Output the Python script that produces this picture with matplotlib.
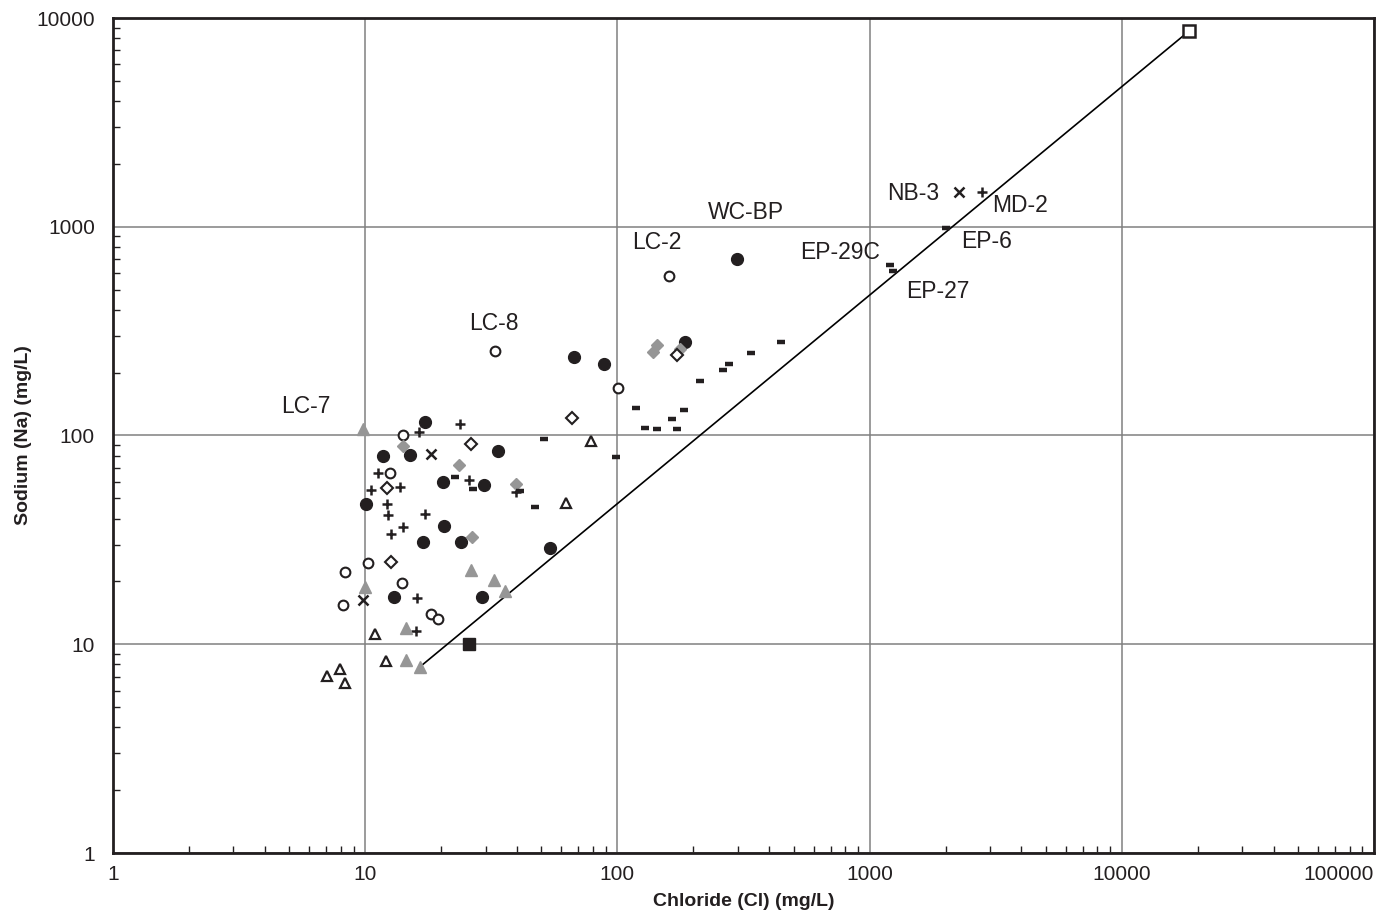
#!/usr/bin/env python3
"""Sodium vs chloride scatter with seawater mixing line."""

import matplotlib

matplotlib.use("Agg")

import matplotlib.pyplot as plt

plt.rcParams["font.family"] = ["Liberation Sans", "DejaVu Sans"]

INK = "#231f20"
GRAY = "#969696"

# (chloride, sodium) in mg/L, grouped by marker
open_circle_cl = [14.1, 12.5, 10.3, 8.3, 14.0, 8.2, 18.3, 19.5, 32.7, 101, 160]
open_circle_na = [101, 66, 24.4, 22.3, 19.6, 15.4, 13.9, 13.2, 255, 168, 581]

filled_circle_cl = [17.2, 33.5, 11.8, 15.0, 20.3, 29.6, 10.1, 20.5, 17.0, 23.9,
                    13.0, 29.1, 54, 67.4, 88.7, 185, 297]
filled_circle_na = [116, 84.6, 79.8, 80.4, 60, 57.7, 46.8, 37, 31.0, 31.0,
                    16.9, 16.9, 29, 237, 220, 279, 700]

plus_cl = [23.8, 16.4, 11.2, 25.8, 39.8, 10.5, 13.7, 12.2, 12.3, 17.2, 14.1,
           12.6, 16.1, 15.9, 2794]
plus_na = [113, 103.5, 65.9, 61.2, 53.8, 54.8, 56.9, 46.8, 41.6, 42, 36.6,
           33.7, 16.6, 11.6, 1462]

cross_cl = [18.3, 9.77, 2265]
cross_na = [81.2, 16.3, 1472]

open_diamond_cl = [26.3, 12.2, 12.6, 66, 172]
open_diamond_na = [90.8, 55.9, 24.7, 121, 242]

gray_diamond_cl = [14.1, 23.6, 39.8, 26.6, 143, 139, 177]
gray_diamond_na = [89, 72, 58.6, 32.5, 272, 250, 259]

gray_triangle_cl = [9.8, 26.3, 32.4, 36, 10, 14.5, 14.5, 16.5]
gray_triangle_na = [108, 22.7, 20.3, 17.9, 18.9, 12.0, 8.4, 7.8]

open_triangle_cl = [10.9, 12.1, 7.07, 7.94, 8.3, 78.9, 62.5]
open_triangle_na = [11.2, 8.3, 7.07, 7.59, 6.5, 94, 47.6]

dash_cl = [22.8, 26.7, 41, 47.1, 51.3, 98.6, 118, 129, 144, 164, 172, 184,
           213, 263, 277, 338, 447, 1203, 1233, 2000]
dash_na = [63, 55.3, 54.5, 45.3, 96, 79, 135, 109, 107, 120, 107.5, 133,
           182, 205, 221, 249, 281, 656, 616, 984]

filled_square_cl = [25.8]
filled_square_na = [10]

seawater_cl = [18500]
seawater_na = [8670]

# mixing line: fresh end member to seawater
mix_cl = [16.5, 18500]
mix_na = [7.8, 8670]

site_labels = ["LC-7", "LC-8", "LC-2", "WC-BP", "EP-29C", "NB-3", "MD-2", "EP-6", "EP-27"]
label_cl = [5.82, 32.5, 143, 322, 766, 1484, 3961, 2917, 1872]
label_na = [138, 344, 836, 1170, 753, 1444, 1271, 850, 487]

x_ticks = [1, 10, 100, 1000, 10000, 100000]
y_ticks = [1, 10, 100, 1000, 10000]


def main():
    fig = plt.figure(figsize=(13.8, 9.13), dpi=100)
    ax = fig.add_axes([113 / 1380, 1 - 853 / 913, 1261 / 1380, 835 / 913])
    ax.set_xscale("log")
    ax.set_yscale("log")
    ax.set_xlim(1, 100000)
    ax.set_ylim(1, 10000)

    ax.plot(mix_cl, mix_na, color="black", lw=1.2, zorder=2)

    ax.plot(open_circle_cl, open_circle_na, "o", ms=7, mfc="white", mec=INK, mew=1.5, ls="none", zorder=3)
    ax.plot(filled_circle_cl, filled_circle_na, "o", ms=8.5, mfc=INK, mec=INK, ls="none", zorder=3)
    ax.plot(plus_cl, plus_na, "+", ms=7.5, mec=INK, mew=1.8, ls="none", zorder=3)
    ax.plot(cross_cl, cross_na, "x", ms=6.5, mec=INK, mew=1.8, ls="none", zorder=3)
    ax.plot(gray_diamond_cl, gray_diamond_na, "D", ms=6.5, mfc=GRAY, mec=GRAY, ls="none", zorder=3)
    ax.plot(open_diamond_cl, open_diamond_na, "D", ms=6, mfc="white", mec=INK, mew=1.5, ls="none", zorder=3)
    ax.plot(gray_triangle_cl, gray_triangle_na, "^", ms=8.5, mfc=GRAY, mec=GRAY, ls="none", zorder=3)
    ax.plot(open_triangle_cl, open_triangle_na, "^", ms=7.5, mfc="white", mec=INK, mew=1.6, ls="none", zorder=3)
    ax.plot(dash_cl, dash_na, "_", ms=6, mec=INK, mew=3.2, ls="none", zorder=3)
    ax.plot(filled_square_cl, filled_square_na, "s", ms=9, mfc=INK, mec=INK, ls="none", zorder=3)
    ax.plot(seawater_cl, seawater_na, "s", ms=8.5, mfc="white", mec=INK, mew=1.8, ls="none", zorder=4)

    for name, x, y in zip(site_labels, label_cl, label_na):
        ax.text(x, y, name, fontsize=16.5, color=INK, ha="center", va="center")

    ax.grid(True, which="major", color="#808080", lw=1.1)
    ax.set_axisbelow(True)
    for spine in ax.spines.values():
        spine.set_color(INK)
        spine.set_linewidth(2)

    ax.set_xticks(x_ticks)
    ax.set_xticklabels([f"{t:g}" if t < 1e5 else "100000" for t in x_ticks])
    ax.set_yticks(y_ticks)
    ax.set_yticklabels([f"{t:g}" for t in y_ticks])
    ax.tick_params(which="both", direction="in", colors=INK, labelsize=15)
    ax.tick_params(axis="x", which="major", length=0, pad=8.5)
    ax.tick_params(axis="y", which="major", length=0, pad=13)
    ax.tick_params(which="minor", length=5, width=1)
    ax.get_xticklabels()[-1].set_ha("right")

    ax.set_xlabel("Chloride (Cl) (mg/L)", fontsize=14, fontweight="bold", color=INK)
    ax.set_ylabel("Sodium (Na) (mg/L)", fontsize=14, fontweight="bold", color=INK)
    ax.xaxis.set_label_coords(0.5, -0.048)
    ax.yaxis.set_label_coords(-0.064, 0.5)

    fig.savefig("out.png")
    plt.close(fig)


if __name__ == "__main__":
    main()
